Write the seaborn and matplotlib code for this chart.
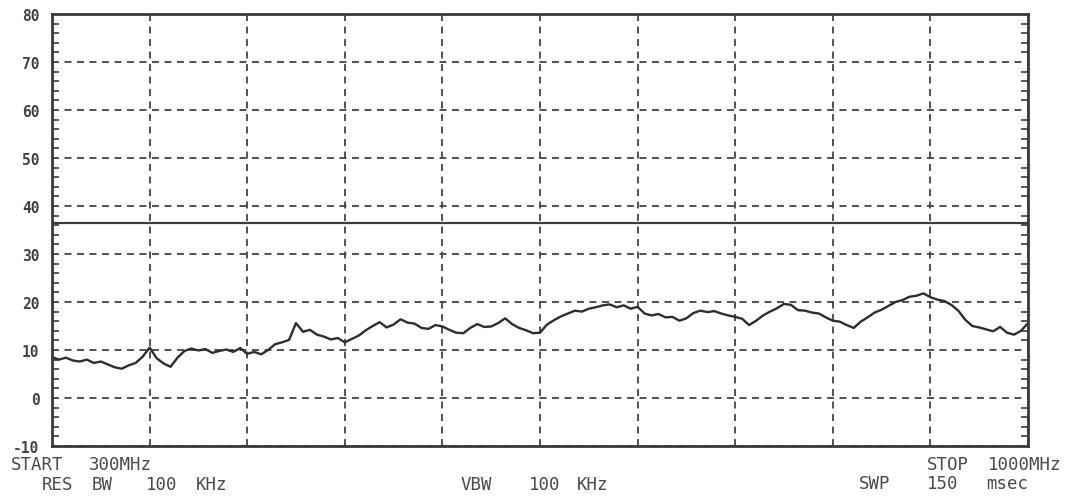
import numpy as np
import pandas as pd
import matplotlib
matplotlib.use("Agg")
import matplotlib.pyplot as plt
import seaborn as sns
from matplotlib.ticker import MultipleLocator

# ---- data ----
freq_start = 300
freq_stop = 1000
freq_step = 5
level_db = [
    8.5, 8.0, 8.4, 7.8, 7.6, 8.0, 7.3, 7.6, 7.0, 6.4,
    6.1, 6.8, 7.3, 8.6, 10.5, 8.3, 7.2, 6.5, 8.4, 9.8,
    10.3, 9.9, 10.2, 9.4, 9.8, 10.1, 9.6, 10.4, 9.2, 9.6,
    9.1, 10.0, 11.2, 11.6, 12.1, 15.6, 13.8, 14.2, 13.2, 12.8,
    12.2, 12.5, 11.6, 12.3, 13.0, 14.1, 15.0, 15.8, 14.7, 15.3,
    16.4, 15.7, 15.5, 14.6, 14.4, 15.2, 14.9, 14.2, 13.6, 13.5,
    14.6, 15.4, 14.8, 14.9, 15.6, 16.6, 15.4, 14.6, 14.1, 13.5,
    13.6, 15.3, 16.2, 17.0, 17.6, 18.2, 18.0, 18.6, 18.9, 19.3,
    19.5, 18.9, 19.3, 18.6, 19.0, 17.6, 17.2, 17.5, 16.8, 16.9,
    16.1, 16.6, 17.7, 18.2, 17.9, 18.1, 17.6, 17.2, 16.9, 16.5,
    15.2, 16.1, 17.2, 18.0, 18.7, 19.6, 19.4, 18.3, 18.2, 17.8,
    17.6, 16.8, 16.1, 15.9, 15.2, 14.6, 15.9, 16.8, 17.8, 18.4,
    19.2, 20.0, 20.4, 21.1, 21.3, 21.8, 21.0, 20.5, 20.2, 19.4,
    18.2, 16.3, 15.0, 14.7, 14.3, 13.9, 14.8, 13.6, 13.2, 14.0,
    15.6,
]
limit_db = 36.5
y_ticks = [80, 70, 60, 50, 40, 30, 20, 10, 0, -10]
y_tick_labels = ["80", "70", "60", "50", "40", "30", "20", "10", "0", "-10"]
footer_words = [
    ("START", 11, 465), ("300MHz", 89, 465),
    ("RES", 42, 485), ("BW", 92, 485), ("100", 146, 485), ("KHz", 196, 485),
    ("VBW", 461, 485), ("100", 529, 485), ("KHz", 577, 485),
    ("STOP", 927, 465), ("1000MHz", 988, 465),
    ("SWP", 859, 484), ("150", 927, 484), ("msec", 986, 484),
]

freqs = [freq_start + i * freq_step for i in range(len(level_db))]
df = pd.DataFrame({"freq": freqs, "level": level_db})

sns.set_theme(style="white")
plt.rcParams["font.family"] = ["DejaVu Sans Mono", "DejaVu Sans"]
plt.rcParams["lines.scale_dashes"] = False

W, H = 1078, 502
fig = plt.figure(figsize=(W / 100, H / 100), dpi=100)
ax = fig.add_axes([52 / W, 1 - 447 / H, (1028 - 52) / W, (447 - 15) / H])

ink = "#3a3a3a"
sns.lineplot(data=df, x="freq", y="level", ax=ax, color="#2e2e2e", linewidth=1.7)
ax.axhline(limit_db, color=ink, linewidth=1.6)

ax.set_xlim(freq_start, freq_stop)
ax.set_ylim(-10, 80)
ax.set_xticks([freq_start + k * (freq_stop - freq_start) / 10 for k in range(11)])
ax.set_xticklabels([])
ax.set_yticks(y_ticks)
ax.set_yticklabels(y_tick_labels, fontsize=10.5, color="#444444", fontweight="bold")
ax.yaxis.set_minor_locator(MultipleLocator(2))
ax.tick_params(axis="y", which="major", length=0, pad=9, right=False)
ax.tick_params(axis="y", which="minor", length=5, width=1.2, direction="in",
               left=True, right=True, color=ink)
ax.tick_params(axis="x", which="both", length=0)
ax.set_xlabel("")
ax.set_ylabel("")

ax.grid(True, which="major", axis="both", color="#444444", linewidth=1.3,
        linestyle=(0, (5, 4)))
ax.set_axisbelow(True)

for s in ax.spines.values():
    s.set_color(ink)
    s.set_linewidth(2.0)
    s.set_visible(True)

for word, x, y in footer_words:
    fig.text(x / W, 1 - y / H, word, ha="left", va="center", fontsize=12.5,
             color="#4a4a4a")

fig.savefig("out.png", dpi=100, facecolor="white")
